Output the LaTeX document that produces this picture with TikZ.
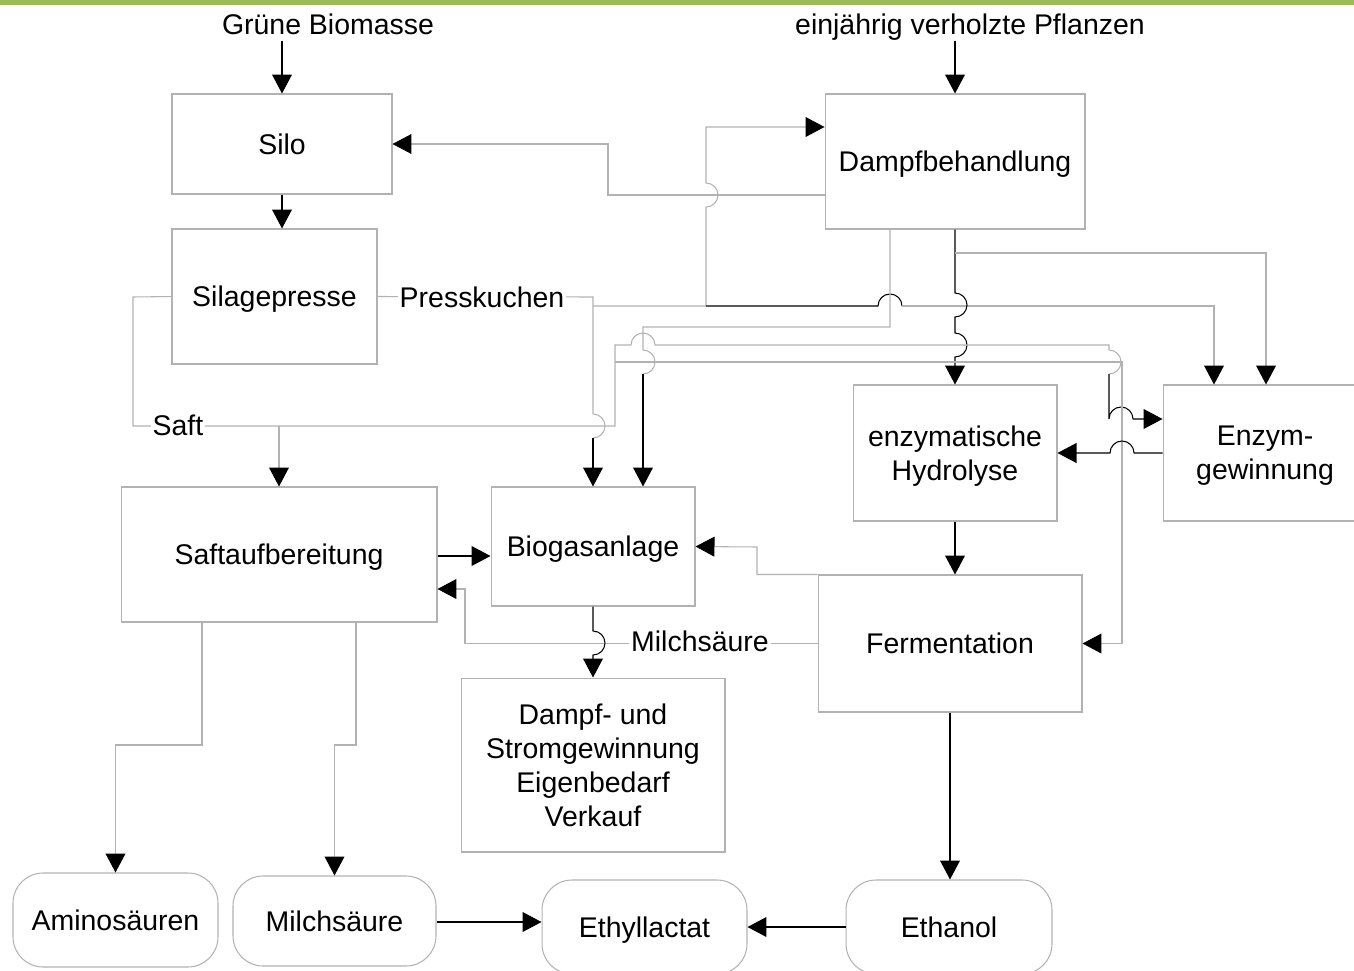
\documentclass[tikz,border=0pt]{standalone}
\usepackage{fontspec}
\setmainfont{Liberation Sans}
\usetikzlibrary{arrows.meta}
\definecolor{linegray}{RGB}{178,178,178}
\definecolor{bargreen}{RGB}{155,187,89}
\newcommand{\jr}{0.24cm}

\begin{document}
\begin{tikzpicture}[x=0.02cm,y=-0.02cm,>={Triangle[length=10.8pt,width=11.3pt,color=black]},
	font=\fontsize{16.2}{19.3}\selectfont,
	box/.style={draw=linegray,line width=0.6pt,align=center,inner sep=0pt,text depth=0pt},
	rbox/.style={box,rounded corners=0.6cm},
	lbl/.style={fill=white,inner sep=1pt},
	gline/.style={linegray,line width=0.6pt},
	bline/.style={black,line width=0.6pt}]
	\useasboundingbox (0,0) rectangle (1354,970);
	\fill[bargreen] (0,0) rectangle (1354,5);

	%inputs
	\node[text depth=0pt] (gruen) at (328,24) {Grüne Biomasse};
	\node[text depth=0pt] (einj) at (970,24) {einjährig verholzte Pflanzen};

	%process boxes
	\node[box,minimum width=4.4cm,minimum height=2cm] (silo) at (282,144) {Silo};
	\node[box,minimum width=4.1cm,minimum height=2.7cm] (presse) at (274.5,296.5) {Silagepresse};
	\node[box,minimum width=5.2cm,minimum height=2.7cm] (dampf) at (955,161.5) {Dampfbehandlung};
	\node[box,minimum width=4.08cm,minimum height=2.72cm] (hydro) at (955,453) {enzymatische\\Hydrolyse};
	\node[box,minimum width=4.08cm,minimum height=2.72cm] (enzym) at (1265,453) {Enzym-\\gewinnung};
	\node[box,minimum width=6.32cm,minimum height=2.7cm] (saft) at (279,554.5) {Saftaufbereitung};
	\node[box,minimum width=4.08cm,minimum height=2.38cm] (bio) at (593,546.5) {Biogasanlage};
	\node[box,minimum width=5.28cm,minimum height=2.74cm] (fer) at (950,643.5) {Fermentation};
	\node[box,minimum width=5.28cm,minimum height=3.48cm] (ds) at (593,765) {Dampf- und\\Stromgewinnung\\Eigenbedarf\\Verkauf};

	%products
	\node[rbox,minimum width=4.1cm,minimum height=1.88cm] (amino) at (115.5,920) {Aminosäuren};
	\node[rbox,minimum width=4.06cm,minimum height=1.8cm] (milch) at (334.5,921) {Milchsäure};
	\node[rbox,minimum width=4.1cm,minimum height=1.88cm] (ethyl) at (644.5,927) {Ethyllactat};
	\node[rbox,minimum width=4.12cm,minimum height=1.88cm] (ethanol) at (949,927) {Ethanol};

	%feed
	\draw[bline,->] (silo.north |- gruen.south) -- (silo.north);
	\draw[bline,->] (dampf.north |- einj.south) -- (dampf.north);
	\draw[bline,->] (silo.south) -- (silo.south |- presse.north);
	\draw[gline,->] (dampf.west |- 0,195) -| (608,144) -- (silo.east);

	%Presskuchen
	\coordinate (pj) at (593,306);
	\coordinate (pk) at (706,306);
	\draw[gline] (presse.east) -- (593,297) -- (593,414) arc[start angle=90,end angle=-90,radius=\jr] coordinate (pb);
	\draw[bline,->] (pb) -- (bio.north);
	\draw[gline,->] (pj) -- (pk) -- (706,207) arc[start angle=-90,end angle=90,radius=\jr] -- (706,127) -- (706,127 -| dampf.west);
	\draw[bline] (pk) -- (878,306) arc[start angle=180,end angle=0,radius=\jr] coordinate (pc);
	\draw[gline,->] (pc) -- (1214,306) -- (1214,306 |- enzym.north);
	\node[lbl] (pklbl) at (482,297) {Presskuchen};

	%Dampfbehandlung outputs
	\coordinate (dj) at (955,253);
	\draw[bline,->] (dampf.south) -- (955,293) arc[start angle=90,end angle=-90,radius=\jr] -- (955,333) arc[start angle=90,end angle=-90,radius=\jr] -- (hydro.north);
	\draw[gline,->] (dj) -- (1266,253) -- (1266,253 |- enzym.north);
	\draw[gline] (dampf.south -| 890,0) -- (890,327) -- (643,327) -- (643,350) arc[start angle=90,end angle=-90,radius=\jr] coordinate (db);
	\draw[bline,->] (db) -- (db |- bio.north);

	%Saft
	\coordinate (sj) at (279,426);
	\coordinate (sk) at (615,362);
	\draw[gline] (presse.west) -- (133,297) -- (133,426) -- (615,426) -- (615,345) -- (631,345) arc[start angle=180,end angle=0,radius=\jr] -- (1109,345) -- (1109,350) arc[start angle=90,end angle=-90,radius=\jr] coordinate (sb);
	\draw[bline,->] (sb) -- (1109,419) arc[start angle=180,end angle=0,radius=\jr] -- (enzym.west |- 0,419);
	\draw[gline,->] (sj) -- (saft.north);
	\draw[gline,->] (sk) -- (1122,362) -- (1122,362 |- fer.east) -- (fer.east);
	\node[lbl] (saftlbl) at (178,425) {Saft};

	%middle
	\draw[bline,->] (enzym.west) -- (1134,453) arc[start angle=0,end angle=180,radius=\jr] -- (hydro.east);
	\draw[bline,->] (hydro.south) -- (hydro.south |- fer.north);
	\draw[gline,->] (fer.west) -- (465,643.5) -- (465,589) -- (saft.east |- 0,589);
	\node[lbl] (mslbl) at (700,641) {Milchsäure};
	\draw[bline,->] (bio.south) -- (593,631) arc[start angle=90,end angle=-90,radius=\jr] -- (ds.north);
	\draw[bline,->] (saft.east |- 0,556) -- (bio.west |- 0,556);
	\draw[gline,->] (fer.north west) -| (757,547) -- (bio.east);

	%products
	\draw[bline,->] (fer.south) -- (fer.south |- ethanol.north);
	\draw[gline,->] (saft.south -| 202,0) -- (202,745) -| (amino.north);
	\draw[gline,->] (saft.south -| 356,0) -- (356,745) -| (milch.north);
	\draw[bline,->] (milch.east |- 0,922) -- (ethyl.west |- 0,922);
	\draw[bline,->] (ethanol.west) -- (ethyl.east);
\end{tikzpicture}
\end{document}
